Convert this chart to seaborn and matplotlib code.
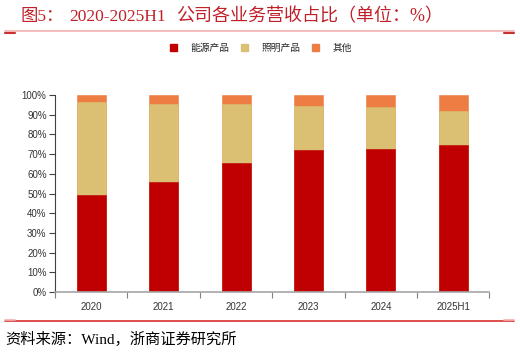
import matplotlib
matplotlib.use("Agg")
import matplotlib.pyplot as plt
import seaborn as sns
import pandas as pd
import numpy as np
from matplotlib.patches import Patch
from matplotlib.lines import Line2D
from matplotlib.ticker import PercentFormatter

categories = ["2020", "2021", "2022", "2023", "2024", "2025H1"]
energy = [49.2, 55.8, 65.4, 72.0, 72.4, 74.4]
lighting = [47.1, 39.8, 29.9, 22.6, 21.3, 17.6]
other = [3.7, 4.4, 4.7, 5.4, 6.3, 8.0]
series_names = ["能源产品", "照明产品", "其他"]
colors = ["#C00000", "#DBC073", "#ED7D42"]

sns.set_theme(style="white")
plt.rcParams["font.family"] = ["Liberation Sans", "Noto Sans CJK SC", "DejaVu Sans"]

df = pd.DataFrame({
    "cat": categories,
    "s1": np.array(energy) / 100,
    "s2": (np.array(energy) + np.array(lighting)) / 100,
    "s3": (np.array(energy) + np.array(lighting) + np.array(other)) / 100,
})

W, H = 520, 352
fig = plt.figure(figsize=(5.2, 3.52), dpi=100)
ax = fig.add_axes([55 / W, 1 - 292 / H, (489.5 - 55) / W, (292 - 95) / H])

for col, c in zip(["s3", "s2", "s1"], colors[::-1]):
    sns.barplot(data=df, x="cat", y=col, color=c, width=0.4, ax=ax,
                saturation=1, edgecolor=c, linewidth=0.4)

ax.set_ylim(0, 1)
ax.set_xlim(-0.5, len(categories) - 0.5)
ax.set_yticks(np.arange(0, 1.01, 0.1))
ax.yaxis.set_major_formatter(PercentFormatter(1.0, decimals=0))
ax.set_xlabel("")
ax.set_ylabel("")
for s in ["top", "right"]:
    ax.spines[s].set_visible(False)
ax.spines["left"].set_color("#404040")
ax.spines["left"].set_linewidth(0.8)
ax.spines["bottom"].set_color("#A6A6A6")
ax.spines["bottom"].set_linewidth(1.2)
ax.tick_params(axis="y", which="major", left=True, length=4, width=0.8,
               color="#404040", labelsize=7, labelcolor="#333333", pad=2)
ax.set_xticks(range(len(categories)))
ax.set_xticklabels(categories)
ax.tick_params(axis="x", which="major", bottom=False, labelsize=7,
               labelcolor="#333333", pad=1)
ax.set_xticks(np.arange(-0.5, len(categories) + 0.5, 1), minor=True)
ax.tick_params(axis="x", which="minor", bottom=True, length=4, width=0.8,
               color="#808080")

handles = [Patch(facecolor=c, edgecolor=c) for c in colors]
leg = fig.legend(handles, series_names, loc="center", bbox_to_anchor=(261 / W, 1 - 48 / H),
                 ncol=3, frameon=False, handlelength=0.7, handleheight=0.7,
                 columnspacing=1.2, handletextpad=1.4,
                 prop={"family": ["Noto Sans CJK SC"], "size": 7})

title_color = "#C0202A"
tfam = ["Liberation Serif", "Noto Sans CJK SC"]
fig.text(20 / W, 1 - 17 / H, "图5：", fontsize=12.5, color=title_color,
         va="center", ha="left", family=tfam)
fig.text(69 / W, 1 - 17 / H, "2020-2025H1", fontsize=12.5, color=title_color,
         va="center", ha="left", family=tfam)
fig.text(176 / W, 1 - 17 / H, "公司各业务营收占比（单位：%）", fontsize=13,
         color=title_color, va="center", ha="left", family=tfam)
fig.text(5 / W, 1 - 339 / H, "资料来源：Wind，浙商证券研究所",
         fontsize=11, color="#000000", va="center", ha="left", family=tfam)

fig.add_artist(Line2D([5 / W, 514 / W], [1 - 31 / H] * 2, color="#F4AFB0", lw=1.2))
fig.add_artist(Line2D([5 / W, 15 / W], [1 - 32.5 / H] * 2, color="#C83232", lw=1.5))
fig.add_artist(Line2D([504 / W, 514 / W], [1 - 32.5 / H] * 2, color="#C83232", lw=1.5))
fig.add_artist(Line2D([5 / W, 514 / W], [1 - 321 / H] * 2, color="#D93030", lw=1.2))
fig.add_artist(Line2D([5 / W, 15 / W], [1 - 319.5 / H] * 2, color="#F4AFB0", lw=1.2))
fig.add_artist(Line2D([504 / W, 514 / W], [1 - 319.5 / H] * 2, color="#F4AFB0", lw=1.2))

fig.savefig("out.png", dpi=100)
